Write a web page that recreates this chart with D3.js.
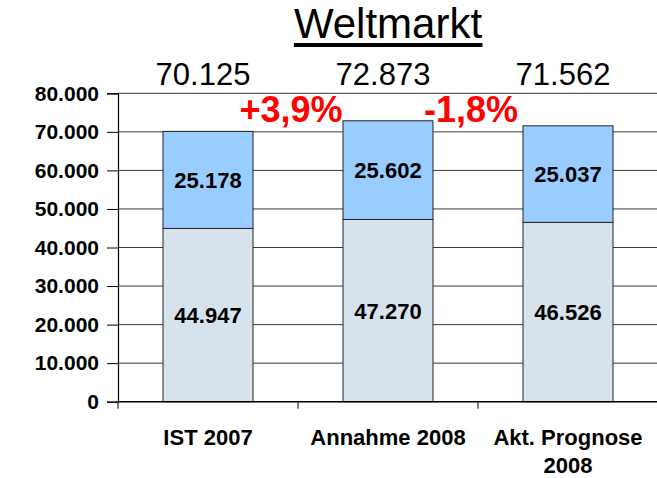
<!DOCTYPE html>
<html>
<head>
<meta charset="utf-8">
<script src="https://cdn.jsdelivr.net/npm/d3@7"></script>
<style>
body { margin: 0; background: #fff; }
text { font-family: "Liberation Sans", Arial, sans-serif; }
</style>
</head>
<body>
<div id="chart"></div>
<script>
////////////////////////////////////////////////////
var categories = [["IST 2007"], ["Annahme 2008"], ["Akt. Prognose", "2008"]];
var lowerValues = [44947, 47270, 46526];
var upperValues = [25178, 25602, 25037];
var totalValues = [70125, 72873, 71562];
var yTicks = [0, 10000, 20000, 30000, 40000, 50000, 60000, 70000, 80000];
var title = "Weltmarkt";

var de = d3.formatLocale({decimal: ",", thousands: ".", grouping: [3], currency: ["", " €"]});
var fmtNum = de.format(",");
var fmtPct = de.format("+.1%");

var totalW = 657, totalH = 478;
var mLeft = 118, mRight = 658, mTop = 93.3, mBottom = 401.7;

var rows = categories.map(function(c, i) {
	return {key: i, cat: c, lower: lowerValues[i], upper: upperValues[i]};
});
var stacked = d3.stack().keys(["lower", "upper"])(rows);

var x = d3.scaleBand()
	.domain(rows.map(function(d) { return d.key; }))
	.range([mLeft, mRight])
	.paddingInner(0.5)
	.paddingOuter(0.25);
var y = d3.scaleLinear().domain([0, 80000]).range([mBottom, mTop]);
// left edge of each category slot
var slot = function(k) { return x(k) - x.step() * x.paddingOuter(); };

var svg = d3.select("#chart").append("svg")
	.attr("width", totalW)
	.attr("height", totalH);

/////////// GRID + Y AXIS
svg.append("g").selectAll("line")
	.data(yTicks.filter(function(t) { return t > 0; }))
	.enter().append("line")
	.attr("x1", mLeft).attr("x2", mRight)
	.attr("y1", function(d) { return y(d); })
	.attr("y2", function(d) { return y(d); })
	.attr("stroke", "#3a3a3a")
	.attr("stroke-width", 1);

var yAxis = svg.append("g")
	.attr("transform", "translate(" + mLeft + ",0)")
	.call(d3.axisLeft(y).tickValues(yTicks).tickFormat(fmtNum).tickSize(11).tickPadding(8));
yAxis.select(".domain").attr("stroke", "#000").attr("stroke-width", 1.2);
yAxis.selectAll(".tick line").attr("stroke", "#000");
yAxis.selectAll(".tick text")
	.attr("fill", "#000")
	.style("font-family", "'Liberation Sans', Arial, sans-serif")
	.style("font-size", "21px")
	.style("font-weight", "bold");

/////////// BARS
var colors = {lower: "#d6e2ec", upper: "#99ccff"};
stacked.forEach(function(layer) {
	svg.append("g").selectAll("rect")
		.data(layer)
		.enter().append("rect")
		.attr("x", function(d) { return x(d.data.key); })
		.attr("width", x.bandwidth())
		.attr("y", function(d) { return y(d[1]); })
		.attr("height", function(d) { return y(d[0]) - y(d[1]); })
		.attr("fill", colors[layer.key])
		.attr("stroke", "#222")
		.attr("stroke-width", 1);
	svg.append("g").selectAll("text")
		.data(layer)
		.enter().append("text")
		.attr("x", function(d) { return x(d.data.key) + x.bandwidth() / 2; })
		.attr("y", function(d) { return (y(d[0]) + y(d[1])) / 2; })
		.attr("dy", "0.36em")
		.attr("text-anchor", "middle")
		.style("font-size", "22px")
		.style("font-weight", "bold")
		.text(function(d) { return fmtNum(d[1] - d[0]); });
});

/////////// X AXIS
var xAxisY = y(0);
svg.append("line")
	.attr("x1", mLeft).attr("x2", mRight)
	.attr("y1", xAxisY).attr("y2", xAxisY)
	.attr("stroke", "#000").attr("stroke-width", 1.5);
svg.append("g").selectAll("line")
	.data(rows)
	.enter().append("line")
	.attr("x1", function(d) { return slot(d.key); })
	.attr("x2", function(d) { return slot(d.key); })
	.attr("y1", xAxisY).attr("y2", xAxisY + 7)
	.attr("stroke", "#000");

var catLabels = svg.append("g").selectAll("text")
	.data(rows)
	.enter().append("text")
	.attr("text-anchor", "middle")
	.attr("y", xAxisY + 43)
	.style("font-size", "22px")
	.style("font-weight", "bold");
catLabels.selectAll("tspan")
	.data(function(d) { return d.cat.map(function(t) { return {t: t, xx: x(d.key) + x.bandwidth() / 2}; }); })
	.enter().append("tspan")
	.attr("x", function(d) { return d.xx; })
	.attr("dy", function(d, i) { return i ? 28 : 0; })
	.text(function(d) { return d.t; });

/////////// TOTALS + CHANGES
svg.append("g").selectAll("text")
	.data(rows)
	.enter().append("text")
	.attr("x", function(d) { return x(d.key) + x.bandwidth() / 2 - 5; })
	.attr("y", 85)
	.attr("text-anchor", "middle")
	.style("font-size", "31px")
	.text(function(d, i) { return fmtNum(totalValues[i]); });

var changes = totalValues.slice(1).map(function(t, i) { return {key: i + 1, v: t / totalValues[i] - 1}; });
svg.append("g").selectAll("text")
	.data(changes)
	.enter().append("text")
	.attr("x", function(d) { return slot(d.key) - 7; })
	.attr("y", 122)
	.attr("text-anchor", "middle")
	.attr("fill", "#ff0000")
	.style("font-size", "36px")
	.style("font-weight", "bold")
	.text(function(d) { return fmtPct(d.v).replace("\u2212", "-"); });

/////////// TITLE
var t = svg.append("text")
	.attr("x", (mLeft + mRight) / 2)
	.attr("y", 38)
	.attr("text-anchor", "middle")
	.style("font-size", "42px")
	.text(title);
var bb = t.node().getBBox();
svg.append("rect")
	.attr("x", bb.x).attr("width", bb.width)
	.attr("y", 43).attr("height", 4)
	.attr("fill", "#000");
</script>
</body>
</html>
